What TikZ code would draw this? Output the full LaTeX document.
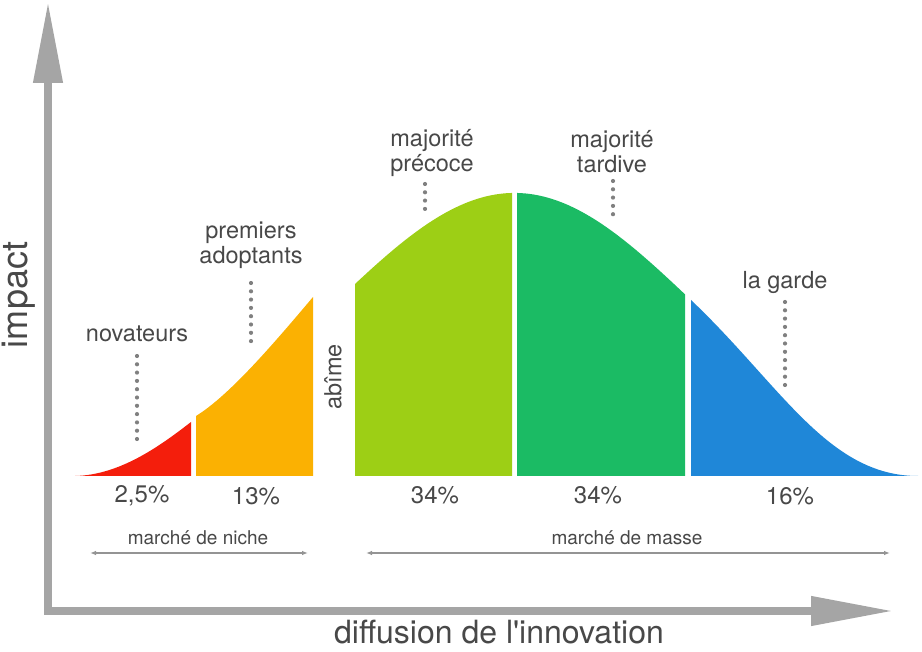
\documentclass[tikz,border=0pt]{standalone}
\usepackage{fontspec}
\usetikzlibrary{arrows.meta}
\newfontfamily\hv{TeX Gyre Heros}
\definecolor{cred}{HTML}{F41E0C}
\definecolor{corange}{HTML}{FBB102}
\definecolor{clgreen}{HTML}{9DCF15}
\definecolor{cdgreen}{HTML}{1BBB64}
\definecolor{cblue}{HTML}{1F87D8}
\definecolor{caxis}{HTML}{A5A5A5}
\definecolor{ctext}{HTML}{484848}
\definecolor{cdot}{HTML}{808080}
\tikzset{
  lbl/.style={font={\hv\fontsize{23.5}{25}\selectfont}, text=ctext, inner sep=0pt, align=center},
  pct/.style={font={\hv\fontsize{24}{27}\selectfont}, text=ctext, inner sep=0pt},
  mkt/.style={font={\hv\fontsize{19}{22}\selectfont}, text=ctext, inner sep=0pt},
  axlbl/.style={font={\hv\fontsize{32}{36}\selectfont}, text=ctext, inner sep=0pt},
  dots/.style={cdot, line width=4.2pt, line cap=round, dash pattern=on 0pt off 8.3pt},
  axisline/.style={caxis, line width=7.5pt, {Triangle[length=81pt,width=28pt]}-{Triangle[length=82pt,width=28pt]}},
  mktarrow/.style={caxis!90!black, line width=1.1pt, {Latex[length=6pt,width=4.5pt]}-{Latex[length=6pt,width=4.5pt]}}
}
\begin{document}
\begin{tikzpicture}[x=1pt,y=-1pt]
\useasboundingbox (0,0) rectangle (922,652);
% curve segments
\fill[cred] (75,476) .. controls (120,475) and (160,446) .. (191,422) -- (191,476) -- cycle;
\fill[corange] (196,476) -- (196,416) .. controls (230,395) and (275,342) .. (313,297) -- (313,476) -- cycle;
\fill[clgreen] (355,476) -- plot[domain=355:512,samples=50] (\x,{476-283*exp(-0.5*((\x-514.5)/181)^2)}) -- (512,476) -- cycle;
\fill[cdgreen] (517,476) -- plot[domain=517:685,samples=50] (\x,{476-283*exp(-0.5*((\x-514.5)/181)^2)}) -- (685,476) -- cycle;
\fill[cblue] (691,476) -- (691,300) .. controls (781,385.5) and (828,476) .. (918,476) -- cycle;
% axes
\coordinate (ytop) at (48,2);
\coordinate (xend) at (893,611);
\draw[axisline] (ytop) |- (xend);
\node[axlbl, font={\hv\fontsize{36}{40}\selectfont}, rotate=90] (impact) at (19,295) {impact};
\node[axlbl] (diff) at (499,632) {diffusion de l'innovation};
% labels
\node[lbl] (nov) at (137,334) {novateurs};
\node[lbl] (prem) at (251,245) {premiers\\adoptants};
\node[lbl] (mprec) at (432,153) {majorité\\précoce};
\node[lbl] (mtard) at (612,152) {majorité\\tardive};
\node[lbl] (garde) at (785,282) {la garde};
\node[lbl, rotate=90] (abime) at (333,377) {abîme};
% dotted leaders
\coordinate (nova) at (137,356); \coordinate (novb) at (137,447);
\coordinate (prema) at (251,283); \coordinate (premb) at (251,347);
\coordinate (mpa) at (425,184); \coordinate (mpb) at (425,212);
\coordinate (mta) at (613,181); \coordinate (mtb) at (613,217);
\coordinate (ga) at (785,302); \coordinate (gb) at (785,385);
\draw[dots] (nova) -- (novb);
\draw[dots] (prema) -- (premb);
\draw[dots] (mpa) -- (mpb);
\draw[dots] (mta) -- (mtb);
\draw[dots] (ga) -- (gb);
% percentages
\node[pct] (p1) at (142,496) {2,5\%};
\node[pct] (p2) at (256,496) {13\%};
\node[pct] (p3) at (435,495) {34\%};
\node[pct] (p4) at (598,495) {34\%};
\node[pct] (p5) at (790,496) {16\%};
% markets
\node[mkt] (niche) at (198,538) {marché de niche};
\node[mkt] (masse) at (627,538) {marché de masse};
\coordinate (na) at (90,553); \coordinate (nb) at (308,553);
\coordinate (ma) at (366,553); \coordinate (mb) at (890,553);
\draw[mktarrow] (na) -- (nb);
\draw[mktarrow] (ma) -- (mb);
\end{tikzpicture}
\end{document}
